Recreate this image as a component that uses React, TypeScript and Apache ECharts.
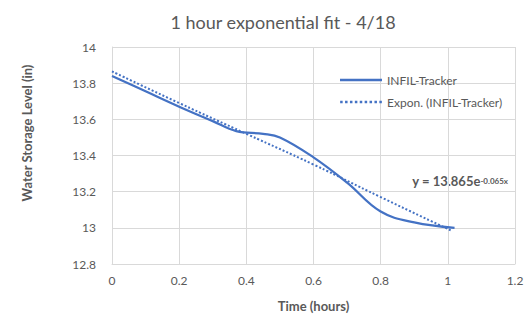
import React, { useEffect, useRef } from "react";
import * as echarts from "echarts";

const title = "1 hour exponential fit - 4/18";
const trackerX = [0, 0.1, 0.2, 0.3, 0.37, 0.45, 0.5, 0.6, 0.7, 0.8, 0.9, 1.02];
const trackerY = [13.84, 13.755, 13.67, 13.59, 13.535, 13.52, 13.5, 13.39, 13.25, 13.09, 13.03, 13.0];
const fitX = [0, 0.2, 0.4, 0.6, 0.8, 1.01];
const fitY = [13.865, 13.69, 13.52, 13.35, 13.17, 12.985];
const seriesNames = ["INFIL-Tracker", "Expon. (INFIL-Tracker)"];
const equation = "y = 13.865e";
const equationExp = "-0.065x";

const FONT = "Lato, 'Open Sans', sans-serif";
const GREY = "#595959";
const BLUE = "#4472C4";

const SOLID_ICON = "path://M0,0h42v2.5h-42z";
let dots = "";
for (let i = 0; i < 9; i++) dots += "M" + (i * 4.9).toFixed(1) + ",0h2.5v2.5h-2.5z";
const DOT_ICON = "path://" + dots;

export default function App() {
  const ref = useRef<HTMLDivElement>(null);
  useEffect(() => {
    if (!ref.current) return;
    const chart = echarts.init(ref.current, null, { renderer: "svg" });
    chart.setOption({
      animation: false,
      title: {
        text: title,
        left: 278,
        top: 8,
        textAlign: "center",
        textStyle: { fontFamily: FONT, fontSize: 18, fontWeight: "normal", color: GREY },
      },
      legend: {
        left: 335,
        top: 68,
        orient: "vertical",
        itemWidth: 42,
        itemHeight: 2.5,
        itemGap: 8,
        textStyle: { fontFamily: FONT, fontSize: 12, color: GREY, lineHeight: 14 },
        data: [
          { name: seriesNames[0], icon: SOLID_ICON },
          { name: seriesNames[1], icon: DOT_ICON },
        ],
      },
      grid: { left: 112, right: 13, top: 47, bottom: 56 },
      xAxis: {
        type: "value",
        min: 0,
        max: 1.2,
        interval: 0.2,
        name: "Time (hours)",
        nameLocation: "middle",
        nameGap: 35,
        nameTextStyle: { fontFamily: FONT, fontSize: 13, fontWeight: "bold", color: GREY },
        axisLine: { lineStyle: { color: "#d9d9d9" } },
        axisTick: { show: false },
        axisLabel: {
          fontFamily: FONT,
          fontSize: 12,
          color: GREY,
          margin: 10,
          formatter: (v: number) => String(Math.round(v * 10) / 10),
        },
        splitLine: { lineStyle: { color: "#d9d9d9" } },
      },
      yAxis: {
        type: "value",
        min: 12.8,
        max: 14,
        interval: 0.2,
        axisLine: { show: true, lineStyle: { color: "#d9d9d9" } },
        axisTick: { show: false },
        axisLabel: {
          fontFamily: FONT,
          fontSize: 12,
          color: GREY,
          margin: 16,
          formatter: (v: number) => String(Math.round(v * 10) / 10),
        },
        splitLine: { lineStyle: { color: "#d9d9d9" } },
      },
      graphic: [
        {
          type: "text",
          x: 27,
          y: 133,
          rotation: Math.PI / 2,
          style: {
            text: "Water Storage Level (in)",
            fontFamily: FONT,
            fontSize: 13,
            fontWeight: "bold",
            fill: GREY,
            align: "center",
            verticalAlign: "middle",
          },
        },
        {
          type: "text",
          x: 508,
          y: 181,
          style: {
            text: "{a|" + equation + "}{b|" + equationExp + "}",
            align: "right",
            verticalAlign: "middle",
            rich: {
              a: { fontFamily: FONT, fontSize: 13, fontWeight: "bold", fill: GREY, color: GREY, height: 18 },
              b: {
                fontFamily: FONT,
                fontSize: 8,
                fontWeight: "bold",
                fill: GREY,
                color: GREY,
                height: 18,
                verticalAlign: "top",
              },
            },
          },
        },
      ],
      series: [
        {
          name: seriesNames[0],
          type: "line",
          smooth: 0.4,
          symbol: "none",
          data: trackerX.map((x, i) => [x, trackerY[i]]),
          lineStyle: { color: BLUE, width: 2.25 },
          itemStyle: { color: BLUE },
          z: 3,
        },
        {
          name: seriesNames[1],
          type: "line",
          smooth: true,
          symbol: "none",
          data: fitX.map((x, i) => [x, fitY[i]]),
          lineStyle: { color: BLUE, width: 2, type: [2, 2] },
          itemStyle: { color: BLUE },
          z: 2,
        },
      ],
    });
    return () => chart.dispose();
  }, []);
  return (
    <div
      ref={ref}
      style={{ position: "absolute", left: 0, top: 0, width: 528, height: 320 }}
    />
  );
}
